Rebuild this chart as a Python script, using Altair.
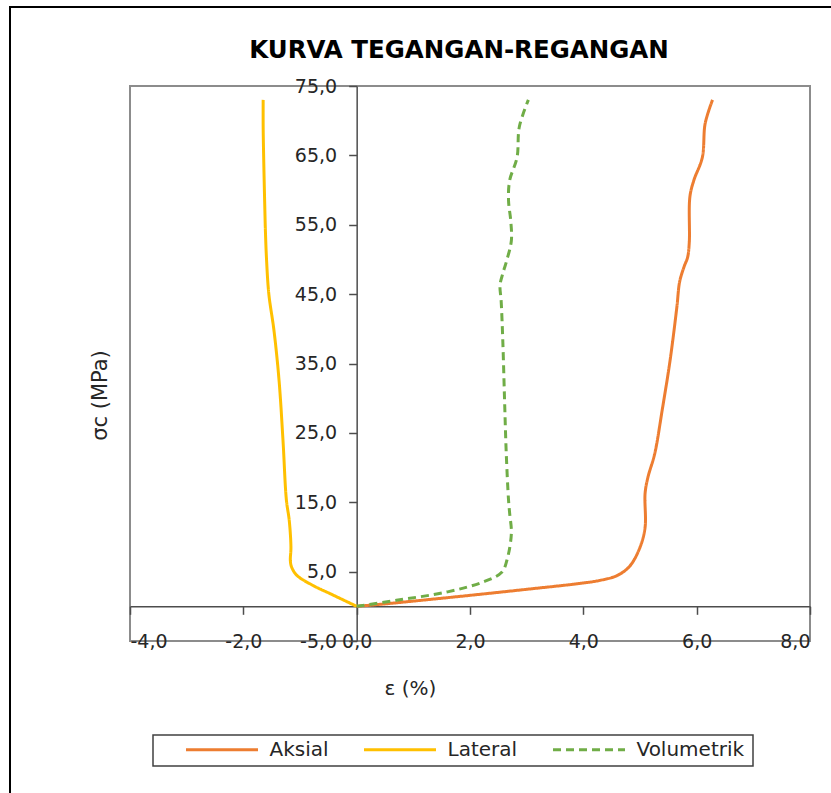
import altair as alt
import pandas as pd

# ---- data ----
series_names = ["Aksial", "Lateral", "Volumetrik"]

aksial_x = [0, 0.5, 1.0, 2.0, 3.0, 3.94, 4.3, 4.6, 4.82, 5.0, 5.09, 5.09, 5.14, 5.26, 5.39, 5.53,
            5.65, 5.70, 5.78, 5.84, 5.87, 5.88, 5.95, 6.10, 6.15, 6.28]
aksial_y = [0, 0.35, 0.75, 1.58, 2.45, 3.3, 3.75, 4.45, 5.8, 8.5, 11.4, 16.3, 18.6, 22.0, 28.2, 35.4,
            43.1, 46.8, 49.0, 50.3, 52.5, 59.0, 61.4, 64.7, 69.6, 73.0]

lateral_x = [0, -0.47, -0.77, -1.06, -1.15, -1.17, -1.16, -1.19, -1.24, -1.30, -1.37, -1.46, -1.55,
             -1.59, -1.61, -1.62, -1.64, -1.65, -1.65]
lateral_y = [0, 1.83, 3.0, 4.5, 5.7, 6.6, 8.5, 12.4, 15.3, 23.9, 32.6, 39.8, 45.0,
             49.9, 54.0, 57.1, 64.3, 69.1, 73.0]

volum_x = [0, 0.7, 1.59, 2.23, 2.56, 2.65, 2.73, 2.70, 2.68, 2.64, 2.61, 2.58, 2.55, 2.53, 2.58,
           2.65, 2.73, 2.72, 2.68, 2.70, 2.83, 2.87, 3.03]
volum_y = [0, 0.86, 2.06, 3.5, 4.9, 6.6, 10.5, 13.4, 15.3, 22.0, 29.7, 38.0, 44.0, 46.3, 48.0,
           49.9, 52.7, 55.5, 58.5, 61.4, 64.7, 69.1, 73.0]

x_ticks = [-4, -2, 0, 2, 4, 6, 8]
y_ticks = [-5, 5, 15, 25, 35, 45, 55, 65, 75]
x_domain = [-4, 8]
y_domain = [-5, 75]

chart_title = "KURVA TEGANGAN-REGANGAN"
colors = ["#ED7D31", "#FFC000", "#70AD47"]

rows = []
for name, xs, ys in [("Aksial", aksial_x, aksial_y), ("Lateral", lateral_x, lateral_y),
                     ("Volumetrik", volum_x, volum_y)]:
    for i, (xv, yv) in enumerate(zip(xs, ys)):
        rows.append({"series": name, "eps": xv, "sigma": yv, "order": i})
df = pd.DataFrame(rows)

W, H = 680, 555
y_axis_offset = -(0 - x_domain[0]) / (x_domain[1] - x_domain[0]) * W
x_axis_offset = -(0 - y_domain[0]) / (y_domain[1] - y_domain[0]) * H

label_expr = "(datum.value < 0 ? '-' : '') + replace(format(abs(datum.value), '.1f'), '.', ',')"
FONT = "DejaVu Sans"
TXT = "#262626"

lines = alt.Chart(df).mark_line(strokeWidth=3, interpolate="catmull-rom", clip=False).encode(
    x=alt.X("eps:Q", scale=alt.Scale(domain=x_domain, nice=False, zero=False),
            axis=alt.Axis(values=x_ticks, labelExpr=label_expr, offset=x_axis_offset,
                          grid=False, tickSize=8, labelPadding=18, title="ε (%)",
                          titleX=280, titleY=82, titleBaseline="middle", titleFontSize=20,
                          titleFontWeight="normal", titleAnchor="start", titleAlign="center")),
    y=alt.Y("sigma:Q", scale=alt.Scale(domain=y_domain, nice=False, zero=False),
            axis=alt.Axis(values=y_ticks, labelExpr=label_expr, offset=y_axis_offset,
                          grid=False, tickSize=8, labelPadding=12, title="σc (MPa)",
                          titleX=-256, titleY=309, titleBaseline="middle", titleAlign="center",
                          titleAngle=-90, titleFontSize=21, titleFontWeight="normal")),
    color=alt.Color("series:N", scale=alt.Scale(domain=series_names, range=colors),
                    legend=alt.Legend(title=None, orient="none", direction="horizontal",
                                      legendX=56, legendY=652, symbolType="M-3.6,0H3.6",
                                      symbolSize=400, symbolStrokeWidth=3,
                                      labelFontSize=20, labelFont=FONT, labelColor=TXT,
                                      columnPadding=29, padding=0, symbolOffset=24.5,
                                      labelOffset=36)),
    strokeDash=alt.StrokeDash("series:N", scale=alt.Scale(domain=series_names,
                                                          range=[[1, 0], [1, 0], [8, 5]]),
                              legend=None),
    order="order:Q",
)

one = pd.DataFrame({"a": [0]})
frame = alt.Chart(one).mark_rect(fill=None, stroke="black", strokeWidth=2, clip=False).encode(
    x=alt.value(-120), x2=alt.value(900), y=alt.value(-79), y2=alt.value(900))
legend_box = alt.Chart(one).mark_rect(fill=None, stroke="#404040", strokeWidth=1.5,
                                      clip=False).encode(
    x=alt.value(23), x2=alt.value(623), y=alt.value(649), y2=alt.value(680))
title_text = alt.Chart(pd.DataFrame({"t": [chart_title]})).mark_text(
    font=FONT, fontSize=24.5, fontWeight="bold", color="black", align="center",
    baseline="middle", clip=False).encode(text="t:N", x=alt.value(329), y=alt.value(-35))

chart = alt.layer(frame, legend_box, title_text, lines).properties(
    width=W, height=H,
    autosize=alt.AutoSizeParams(type="none"),
    padding={"left": 130, "top": 86, "right": 21, "bottom": 152},
    background="white",
).configure_view(stroke="#8c8c8c", strokeWidth=2).configure_axis(
    labelFont=FONT, titleFont=FONT, labelFontSize=19, labelColor=TXT,
    titleColor=TXT, domainColor="#4d4d4d", tickColor="#4d4d4d",
    domainWidth=1.5, tickWidth=1.5,
)

chart.save("out.html", embed_options={"renderer": "svg", "actions": False})
